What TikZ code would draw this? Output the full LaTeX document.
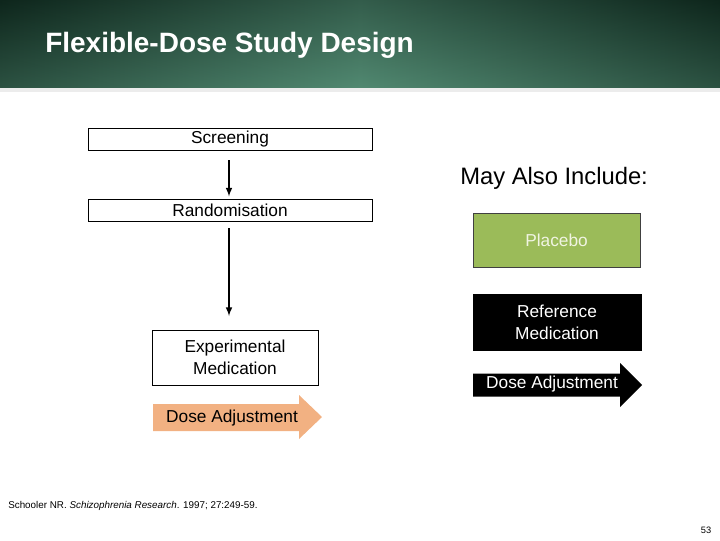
\documentclass[tikz,border=0pt]{standalone}
\usepackage{fontspec}
\setmainfont{Liberation Sans}
\usepackage{tikz}
\usetikzlibrary{arrows, positioning, calc}
\definecolor{hdrDark}{RGB}{14, 38, 28}
\definecolor{hdrLight}{RGB}{82, 138, 114}
\definecolor{placeboColor}{RGB}{155, 187, 89}
\definecolor{placeboText}{RGB}{240, 244, 226}
\definecolor{doseColor}{RGB}{242, 177, 130}

\tikzset{
  stagebox/.style={draw=black, line width=0.6pt, fill=white, inner sep=0pt, align=center, font=\fontsize{12.3}{15.6}\selectfont},
  flowarrow/.style={->, >=latex, line width=1.1pt},
  boxtext/.style={font=\fontsize{12.3}{15.6}\selectfont, align=center, inner sep=0pt}
}

\begin{document}
\begin{tikzpicture}[x=0.025cm, y=-0.025cm]
  \useasboundingbox (0,0) rectangle (720,540);
  % header band
  \shade[left color=hdrDark, right color=hdrDark, middle color=hdrLight] (0,0) rectangle (720,90);
  \shade[top color=hdrDark, bottom color=hdrLight, opacity=0.45] (0,0) rectangle (720,90);
  \fill[white!85!gray] (0,88) rectangle (720,92);
  \node[anchor=west, white, font=\fontsize{19.9}{23}\selectfont\bfseries, inner sep=0pt] (title) at (45,45) {Flexible-Dose Study Design};

  % left column
  \node[stagebox, minimum width=7.1cm, minimum height=0.55cm] (screen) at (230,139) {Screening};
  \node[stagebox, minimum width=7.1cm, minimum height=0.55cm] (rand) at (230,210) {Randomisation};
  \node[stagebox, minimum width=4.15cm, minimum height=1.375cm] (exp) at (235,357.5) {Experimental\\Medication};
  \coordinate (randEnd) at (229,316);
  \draw[flowarrow, shorten <=7pt, shorten >=1.5pt] (screen.south -| 229,0) -- (rand.north -| 229,0);
  \draw[flowarrow, shorten <=5pt] (rand.south -| 229,0) -- (randEnd);

  \fill[doseColor] (153,404) -- (299,404) -- (299,395) -- (322,417) -- (299,439) -- (299,431) -- (153,431) -- cycle;
  \node[boxtext] (doseExp) at (232,418) {Dose Adjustment};

  % right column
  \node[anchor=west, font=\fontsize{16.9}{20}\selectfont, inner sep=0pt] (also) at (460,178) {May Also Include:};
  \node[stagebox, draw=black!75, fill=placeboColor, text=placeboText, minimum width=4.175cm, minimum height=1.35cm] (placebo) at (556.5,240) {Placebo};
  \node[stagebox, fill=black, text=white, minimum width=4.2cm, minimum height=1.4cm] (ref) at (557,322) {Reference\\Medication};

  \fill[black] (473,373.5) -- (620,373.5) -- (620,363) -- (642,385) -- (620,407) -- (620,396.5) -- (473,396.5) -- cycle;
  \node[boxtext, text=white] (doseRef) at (552,384) {Dose Adjustment};

  % footer
  \node[anchor=west, font=\fontsize{7}{8.5}\selectfont, inner sep=0pt] (cite) at (8,506) {Schooler NR. \textit{Schizophrenia Research}. 1997; 27:249-59.};
  \node[font=\fontsize{6.6}{8}\selectfont, inner sep=0pt] (page) at (706,530) {53};
\end{tikzpicture}
\end{document}
